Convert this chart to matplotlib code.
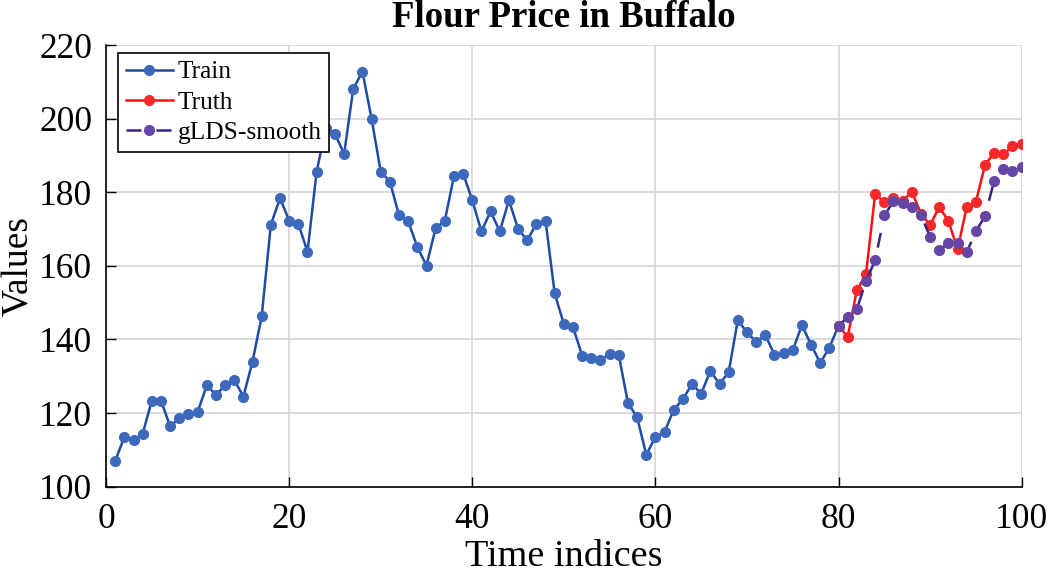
import matplotlib
matplotlib.use("Agg")
import matplotlib.pyplot as plt

plt.rcParams['font.family'] = ['Liberation Serif', 'DejaVu Serif']

train_t = list(range(1, 81))
train_v = [107.0, 113.5, 112.6, 114.4, 123.4, 123.4, 116.4, 118.6, 119.8, 120.3,
           127.5, 125.0, 127.5, 129.0, 124.5, 134.0, 146.3, 171.2, 178.4, 172.3,
           171.5, 163.8, 185.6, 197.5, 195.9, 190.4, 208.1, 212.8, 200.0, 185.6,
           182.9, 173.7, 172.1, 165.1, 160.1, 170.3, 172.3, 184.4, 185.1, 177.8,
           169.4, 174.8, 169.4, 177.8, 170.1, 166.9, 171.5, 172.3, 152.5, 144.2,
           143.4, 135.6, 135.1, 134.4, 136.1, 135.8, 122.7, 118.9, 108.7, 113.5,
           114.9, 120.9, 123.8, 127.9, 125.2, 131.5, 127.9, 131.1, 145.3, 141.9,
           139.4, 141.2, 135.9, 136.3, 137.1, 143.9, 138.6, 133.6, 137.8, 143.7]

test_t = list(range(80, 101))
truth_v = [143.7, 140.7, 153.4, 157.7, 179.6, 177.3, 178.4, 177.6, 180.2, 174.2,
           171.1, 176.0, 172.2, 164.5, 176.0, 177.4, 187.4, 190.8, 190.3, 192.5, 193.0]
glds_v = [143.7, 146.1, 148.2, 155.9, 161.5, 173.7, 177.5, 177.0, 175.9, 173.8,
          167.9, 164.4, 166.1, 166.2, 163.7, 169.4, 173.5, 183.2, 186.2, 185.8, 186.9]

x_ticks = [0, 20, 40, 60, 80, 100]
y_ticks = [100, 120, 140, 160, 180, 200, 220]

fig = plt.figure(figsize=(10.5, 5.75), dpi=100)
ax = fig.add_axes([0.101, 0.1536, 0.872, 0.768])

ax.plot(train_t, train_v, '-o', color='#1F4BA5', lw=1.8, ms=7,
        markerfacecolor='#3D69BD', markeredgecolor='#3D69BD', label='Train', zorder=3)
ax.plot(test_t, truth_v, '-o', color='#FF1010', lw=1.8, ms=7,
        markerfacecolor='#F42A2A', markeredgecolor='#F42A2A', label='Truth', zorder=4)
ax.plot(test_t, glds_v, '--o', color='#35248A', lw=1.8, ms=7, dashes=(6, 6),
        markerfacecolor='#6545A5', markeredgecolor='#6545A5', label='gLDS-smooth', zorder=5)

ax.set_xlim(0, 100)
ax.set_ylim(100, 220)
ax.set_xticks(x_ticks)
ax.set_yticks(y_ticks)
ax.tick_params(direction='in', length=7, width=1, labelsize=25.5)
ax.tick_params(axis='x', pad=12)
ax.tick_params(axis='y', pad=10)
ax.grid(True, color='#D4D4D4', lw=1.2)
ax.set_axisbelow(True)
for s in ['top', 'right']:
    ax.spines[s].set_visible(False)
for s in ['left', 'bottom']:
    ax.spines[s].set_linewidth(1.2)
    ax.spines[s].set_color('black')

ax.set_xlabel('Time indices', fontsize=27.5, labelpad=2)
ax.set_ylabel('Values', fontsize=27)
ax.yaxis.set_label_coords(-0.076, 0.5)
ax.set_title('Flour Price in Buffalo', fontsize=26.5, fontweight='bold', pad=13)

leg = ax.legend(loc='upper left', bbox_to_anchor=(0.0131, 0.982), borderaxespad=0,
                fontsize=18.3, frameon=True, fancybox=False,
                edgecolor='black', framealpha=1, borderpad=0.3, labelspacing=0.3,
                handlelength=1.85, handletextpad=0.2)
leg.get_frame().set_linewidth(1.2)

fig.savefig('out.png', dpi=100)
